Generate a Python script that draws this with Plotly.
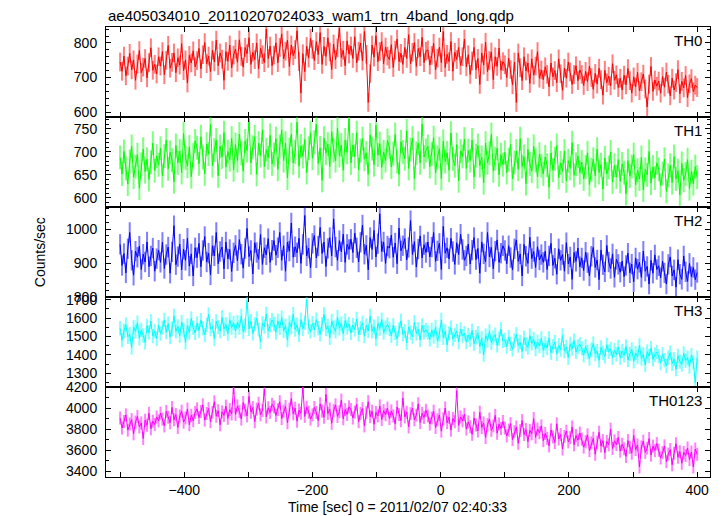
import plotly.graph_objects as go

# ---- data ----
title_text = "ae405034010_20110207024033_wam1_trn_4band_long.qdp"
x_title = "Time [sec] 0 = 2011/02/07 02:40:33"
y_title = "Counts/sec"
band_names = ["TH0", "TH1", "TH2", "TH3", "TH0123"]
t_start = -500
t_step = 3

th0 = [
    745, 718, 762, 705, 733, 770, 722, 751, 692, 739, 778, 714, 730, 755, 699, 743, 786, 721, 738, 710,
    760, 733, 775, 708, 750, 793, 727, 744, 771, 714, 757, 736, 798, 720, 751, 684, 764, 742, 777, 731,
    749, 784, 725, 766, 801, 740, 762, 717, 779, 745, 808, 734, 771, 753, 692, 775, 747, 794, 728, 765,
    782, 744, 809, 761, 730, 787, 769, 815, 738, 773, 752, 800, 725, 784, 766, 743, 840, 755, 791, 734,
    765, 800, 743, 787, 826, 754, 776, 808, 732, 794, 763, 781, 835, 746, 655, 769, 717, 790, 756, 813,
    781, 749, 804, 766, 830, 738, 790, 761, 815, 774, 723, 797, 752, 786, 843, 758, 779, 734, 806, 768,
    791, 755, 818, 742, 776, 800, 748, 833, 767, 628, 711, 794, 759, 821, 746, 775, 804, 740, 788, 762,
    752, 795, 729, 779, 811, 746, 770, 738, 787, 755, 824, 740, 773, 801, 732, 784, 760, 816, 743, 776,
    780, 736, 764, 799, 722, 756, 788, 743, 833, 729, 767, 746, 804, 718, 773, 752, 787, 735, 760, 811,
    731, 766, 709, 748, 787, 723, 755, 680, 771, 736, 802, 717, 749, 774, 694, 760, 732, 785, 721, 746,
    737, 700, 756, 723, 679, 745, 628, 771, 728, 691, 760, 719, 742, 683, 754, 707, 733, 775, 698, 722,
    694, 731, 709, 673, 742, 702, 720, 685, 754, 711, 663, 727, 698, 745, 716, 680, 709, 734, 691, 722,
    709, 677, 718, 688, 733, 700, 666, 712, 681, 727, 694, 649, 721, 685, 704, 676, 740, 692, 708, 671,
    698, 664, 707, 679, 726, 691, 655, 702, 673, 715, 662, 688, 710, 667, 615, 681, 732, 660, 693, 675,
    690, 655, 703, 672, 716, 681, 647, 698, 664, 685, 723, 653, 689, 670, 706, 642, 682, 697, 659, 678,
    671,
]

th1 = [
    688, 652, 701, 664, 630, 679, 712, 645, 668, 694, 621, 673, 706, 657, 684, 640, 677, 719, 659, 691,
    672, 708, 648, 691, 726, 663, 699, 682, 635, 714, 676, 702, 655, 740, 687, 669, 711, 646, 693, 724,
    709, 674, 733, 688, 652, 717, 695, 760, 670, 704, 726, 648, 712, 689, 742, 667, 701, 683, 730, 661,
    716, 681, 739, 697, 658, 724, 703, 771, 676, 710, 733, 651, 719, 692, 748, 668, 705, 687, 736, 674,
    694, 729, 662, 712, 747, 681, 719, 643, 705, 738, 676, 700, 765, 669, 713, 690, 727, 655, 708, 742,
    686, 721, 760, 675, 709, 638, 730, 697, 717, 668, 744, 703, 681, 752, 692, 715, 660, 726, 699, 772,
    676, 715, 690, 742, 661, 703, 729, 684, 698, 651, 737, 707, 672, 758, 693, 718, 666, 700, 681, 725,
    710, 667, 696, 738, 679, 651, 722, 700, 685, 746, 664, 705, 730, 642, 697, 719, 676, 761, 689, 703,
    712, 668, 695, 731, 654, 688, 707, 642, 723, 679, 698, 660, 741, 685, 670, 716, 637, 702, 690, 728,
    664, 703, 681, 726, 645, 692, 714, 670, 688, 633, 719, 676, 697, 738, 659, 685, 708, 650, 694, 672,
    699, 655, 683, 716, 641, 677, 702, 662, 729, 668, 690, 631, 705, 674, 658, 712, 682, 646, 695, 670,
    652, 689, 671, 623, 698, 660, 685, 714, 644, 676, 658, 702, 637, 681, 664, 720, 649, 673, 691, 655,
    678, 641, 667, 698, 629, 661, 684, 648, 706, 655, 672, 619, 687, 652, 666, 700, 634, 671, 645, 683,
    636, 674, 655, 609, 681, 647, 668, 694, 628, 660, 641, 688, 617, 662, 650, 701, 632, 667, 643, 676,
    662, 627, 653, 684, 614, 649, 671, 633, 690, 641, 659, 606, 675, 638, 652, 683, 620, 657, 631, 668,
    645,
]

th2 = [
    955, 893, 928, 871, 942, 990, 908, 864, 935, 917, 950, 881, 926, 903, 962, 889, 921, 944, 876, 913,
    938, 902, 961, 884, 925, 947, 870, 933, 1010, 895, 919, 956, 880, 941, 908, 973, 891, 927, 862, 945,
    916, 958, 889, 937, 978, 903, 929, 865, 951, 921, 990, 898, 934, 947, 883, 962, 912, 940, 875, 930,
    952, 907, 969, 926, 885, 943, 1002, 919, 937, 868, 960, 931, 911, 984, 896, 945, 924, 972, 902, 938,
    966, 923, 945, 990, 908, 951, 876, 962, 935, 1018, 917, 948, 930, 973, 899, 955, 1040, 921, 944, 886,
    958, 981, 915, 950, 1005, 928, 962, 890, 943, 975, 921, 1030, 947, 908, 966, 933, 985, 902, 955, 940,
    970, 931, 988, 945, 903, 961, 1012, 926, 952, 880, 975, 940, 996, 918, 957, 1045, 934, 962, 899, 950,
    944, 982, 917, 959, 898, 1003, 936, 951, 972, 909, 946, 1025, 925, 963, 888, 941, 980, 915, 954, 931,
    962, 918, 947, 990, 905, 936, 958, 881, 1008, 929, 945, 912, 973, 934, 896, 960, 925, 985, 940, 908,
    921, 956, 897, 938, 975, 910, 943, 870, 962, 927, 904, 990, 918, 946, 883, 935, 968, 902, 929, 951,
    937, 898, 951, 916, 880, 942, 968, 905, 927, 862, 955, 920, 899, 976, 913, 934, 887, 948, 909, 925,
    902, 935, 881, 921, 958, 893, 914, 867, 942, 908, 925, 876, 960, 897, 918, 852, 931, 905, 944, 889,
    915, 878, 932, 901, 862, 920, 946, 887, 909, 851, 938, 895, 874, 952, 903, 884, 927, 858, 911, 896,
    873, 906, 860, 893, 929, 871, 897, 845, 915, 882, 902, 858, 935, 876, 890, 838, 908, 870, 924, 881,
    892, 857, 905, 871, 838, 896, 918, 862, 880, 829, 910, 867, 852, 921, 874, 846, 899, 860, 887, 851,
    872,
]

th3 = [
    1545, 1480, 1530, 1565, 1498, 1512, 1440, 1550, 1527, 1575, 1490, 1536, 1505, 1468, 1558, 1521, 1583, 1502, 1530, 1487,
    1562, 1515, 1548, 1590, 1523, 1570, 1497, 1541, 1612, 1528, 1555, 1504, 1579, 1536, 1468, 1560, 1522, 1598, 1547, 1519,
    1571, 1532, 1589, 1545, 1508, 1563, 1620, 1540, 1557, 1488, 1583, 1551, 1529, 1605, 1541, 1566, 1516, 1592, 1548, 1574,
    1530, 1578, 1549, 1612, 1525, 1560, 1695, 1541, 1583, 1517, 1566, 1599, 1538, 1470, 1572, 1554, 1623, 1529, 1561, 1590,
    1568, 1522, 1585, 1547, 1603, 1531, 1559, 1480, 1576, 1550, 1622, 1538, 1564, 1509, 1591, 1542, 1575, 1700, 1552, 1527,
    1573, 1536, 1592, 1545, 1512, 1567, 1620, 1540, 1558, 1493, 1584, 1550, 1528, 1606, 1544, 1570, 1515, 1587, 1549, 1568,
    1519, 1562, 1538, 1596, 1511, 1547, 1575, 1502, 1560, 1530, 1612, 1528, 1554, 1486, 1571, 1543, 1592, 1521, 1549, 1565,
    1542, 1503, 1561, 1520, 1488, 1538, 1585, 1512, 1530, 1465, 1552, 1521, 1499, 1577, 1516, 1540, 1481, 1560, 1523, 1536,
    1522, 1484, 1535, 1500, 1552, 1476, 1511, 1590, 1493, 1528, 1455, 1517, 1548, 1487, 1509, 1530, 1470, 1539, 1502, 1518,
    1470, 1508, 1483, 1532, 1461, 1496, 1518, 1445, 1490, 1400, 1505, 1478, 1527, 1466, 1494, 1510, 1452, 1488, 1540, 1475,
    1482, 1445, 1497, 1460, 1430, 1478, 1512, 1451, 1470, 1418, 1493, 1458, 1440, 1505, 1463, 1486, 1432, 1471, 1448, 1490,
    1425, 1462, 1438, 1490, 1412, 1447, 1470, 1405, 1452, 1428, 1506, 1420, 1443, 1385, 1460, 1433, 1478, 1416, 1445, 1458,
    1436, 1398, 1447, 1415, 1380, 1428, 1462, 1404, 1421, 1370, 1440, 1411, 1392, 1455, 1417, 1433, 1384, 1426, 1402, 1443,
    1385, 1421, 1398, 1446, 1372, 1405, 1430, 1365, 1410, 1388, 1452, 1380, 1403, 1345, 1418, 1393, 1437, 1376, 1401, 1415,
    1392, 1356, 1403, 1371, 1340, 1386, 1412, 1352, 1377, 1322, 1395, 1364, 1348, 1408, 1369, 1385, 1336, 1398, 1360, 1250,
    1385,
]

th0123 = [
    3905, 3810, 3872, 3935, 3790, 3848, 3890, 3755, 3866, 3920, 3820, 3858, 3710, 3884, 3836, 3950, 3802, 3875, 3843, 3915,
    3878, 3952, 3895, 3830, 3968, 3912, 3860, 4005, 3889, 3937, 3815, 3924, 3970, 3866, 3905, 3990, 3842, 3931, 3880, 3958,
    3992, 3910, 3966, 4030, 3885, 3948, 3995, 3870, 3959, 4060, 3922, 3975, 3840, 3963, 3930, 4018, 3902, 3985, 3944, 4195,
    3940, 4020, 3968, 3895, 4052, 3981, 3925, 4110, 3960, 4005, 3870, 3990, 4045, 3935, 3978, 4180, 3915, 4002, 3958, 4035,
    4010, 3930, 3985, 4060, 3900, 3972, 4015, 3860, 3990, 4090, 3945, 3998, 3875, 3980, 3950, 4200, 3920, 4008, 3962, 3895,
    3935, 4005, 3958, 3880, 4040, 3970, 3912, 4130, 3948, 3990, 3855, 3975, 4030, 3920, 3965, 4075, 3898, 3985, 3940, 4012,
    3985, 3905, 3962, 4035, 3870, 3948, 3995, 3830, 3955, 4060, 3918, 3970, 3845, 3958, 3925, 4020, 3890, 3975, 3936, 4000,
    3900, 3972, 3925, 3850, 4010, 3938, 3880, 4095, 3915, 3960, 3820, 3945, 3998, 3888, 3932, 4040, 3862, 3950, 3910, 3978,
    3925, 3848, 3905, 3970, 3815, 3888, 3935, 3780, 3898, 4000, 3860, 3912, 3790, 3900, 3870, 4165, 3835, 3915, 3878, 3940,
    3800, 3868, 3822, 3750, 3905, 3838, 3782, 3960, 3815, 3858, 3720, 3842, 3895, 3788, 3830, 3930, 3760, 3848, 3805, 3872,
    3810, 3735, 3790, 3852, 3700, 3775, 3820, 3665, 3785, 3880, 3748, 3795, 3680, 3788, 3755, 3900, 3722, 3800, 3765, 3830,
    3690, 3758, 3712, 3640, 3792, 3725, 3672, 3850, 3705, 3748, 3610, 3730, 3780, 3678, 3718, 3820, 3650, 3738, 3695, 3762,
    3705, 3628, 3680, 3745, 3595, 3668, 3712, 3560, 3675, 3770, 3638, 3690, 3575, 3682, 3650, 3800, 3615, 3688, 3652, 3720,
    3590, 3655, 3612, 3540, 3690, 3625, 3570, 3740, 3605, 3648, 3440, 3630, 3685, 3578, 3618, 3710, 3552, 3638, 3595, 3662,
    3598, 3525, 3575, 3640, 3490, 3562, 3605, 3460, 3570, 3660, 3532, 3585, 3475, 3578, 3548, 3620, 3510, 3582, 3440, 3610,
    3560,
]

band_errors = [27, 26, 30, 39, 62]

# ---- styling ----
line_colors = ["#ff0000", "#00ff00", "#0000ff", "#00ffff", "#ff00ff"]
err_colors = ["rgba(255,0,0,0.5)", "rgba(0,255,0,0.5)", "rgba(0,0,255,0.5)",
              "rgba(0,255,255,0.5)", "rgba(255,0,255,0.5)"]
y_ranges = [[586, 846], [580, 776], [800, 1065], [1225, 1715], [3344, 4200]]
y_dticks = [100, 50, 100, 100, 200]
y_minor = [20, 10, 20, 50, 100]
x_range = [-522, 420]

FONT = "Liberation Sans, Arial, Helvetica, sans-serif"
series = [th0, th1, th2, th3, th0123]

fig = go.Figure()
n = len(series)
for i, vals in enumerate(series):
    k = i + 1
    fig.add_trace(go.Scatter(
        x0=t_start, dx=t_step, y=vals, mode="lines",
        line=dict(color=line_colors[i], width=1),
        error_y=dict(type="constant", value=band_errors[i], color=err_colors[i],
                     thickness=2, width=0),
        xaxis=f"x{k}" if k > 1 else "x", yaxis=f"y{k}" if k > 1 else "y",
        showlegend=False, hoverinfo="skip",
    ))

layout = dict(
    width=723, height=516,
    margin=dict(l=106, r=13, t=27, b=39),
    paper_bgcolor="white", plot_bgcolor="white",
    font=dict(family=FONT, size=14, color="black"),
    showlegend=False,
)
for i in range(n):
    k = i + 1
    suffix = "" if k == 1 else str(k)
    top = 1 - i / n
    bot = 1 - (i + 1) / n
    layout[f"xaxis{suffix}"] = dict(
        domain=[0, 1], anchor=f"y{suffix}", range=x_range,
        tickvals=[-400, -200, 0, 200, 400],
        showticklabels=(k == n),
        ticks="inside", ticklen=5, tickwidth=1, tickcolor="black",
        minor=dict(dtick=100, tick0=0, ticks="inside", ticklen=5, tickcolor="black"),
        showline=True, linecolor="black", linewidth=1, mirror="allticks",
        showgrid=False, zeroline=False,
        tickfont=dict(family=FONT, size=14, color="black"),
        **({} if k == 1 else {"matches": "x"}),
    )
    layout[f"yaxis{suffix}"] = dict(
        domain=[bot, top], anchor=f"x{suffix}", range=y_ranges[i],
        dtick=y_dticks[i], tick0=0,
        ticks="inside", ticklen=5, tickwidth=1, tickcolor="black",
        minor=dict(dtick=y_minor[i], tick0=0, ticks="inside", ticklen=3, tickcolor="black"),
        showline=True, linecolor="black", linewidth=1, mirror="allticks",
        showgrid=False, zeroline=False,
        tickfont=dict(family=FONT, size=14, color="black"),
        ticklabelstandoff=5,
    )
fig.update_layout(**layout)

annotations = [
    dict(text=title_text, xref="paper", yref="paper", x=0, y=1, xanchor="left",
         yanchor="bottom", yshift=1, showarrow=False,
         font=dict(family=FONT, size=15, color="black")),
    dict(text=x_title, xref="paper", yref="paper", x=0.482, y=0, xanchor="center",
         yanchor="middle", yshift=-30, showarrow=False,
         font=dict(family=FONT, size=14, color="black")),
    dict(text=y_title, xref="paper", yref="paper", x=-0.109, y=0.5, xanchor="center",
         yanchor="middle", textangle=-90, showarrow=False,
         font=dict(family=FONT, size=14, color="black")),
]
for i, name in enumerate(band_names):
    k = i + 1
    suffix = "" if k == 1 else str(k)
    annotations.append(dict(
        text=name, xref="paper", yref=f"y{suffix} domain", x=0.99, y=1,
        xanchor="right", yanchor="top", yshift=-3, showarrow=False,
        font=dict(family=FONT, size=15, color="black")))
fig.update_layout(annotations=annotations)

fig.write_html("out.html", config={"displayModeBar": False},
               post_script="document.body.style.margin='0px';")
